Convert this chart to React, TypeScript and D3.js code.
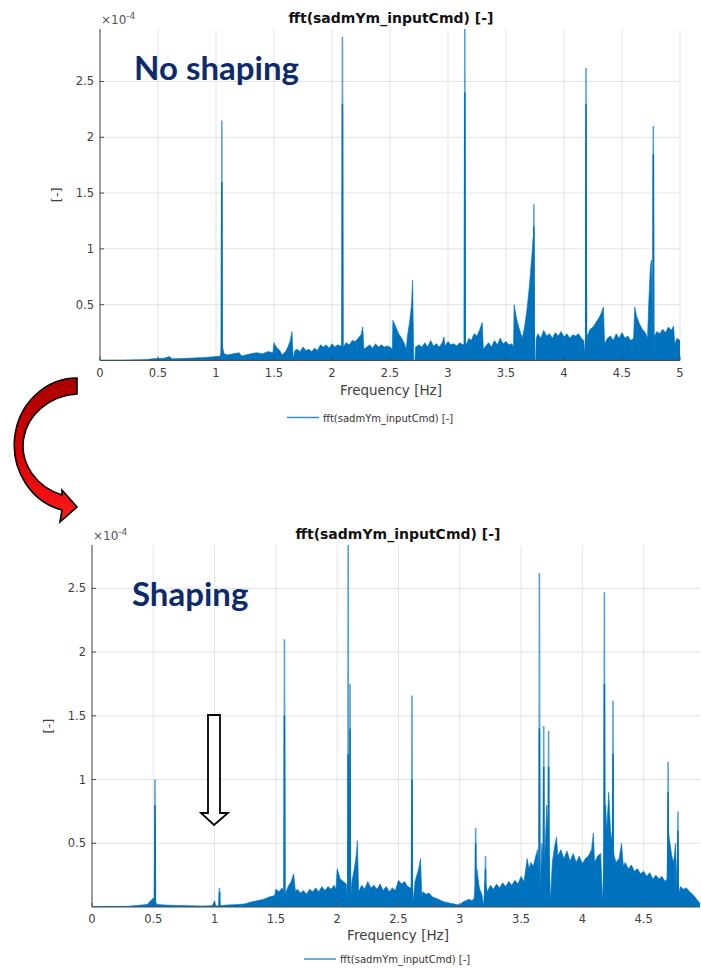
import React from 'react';
import * as d3 from 'd3';

type P = [number, number];

// Noise envelope of the "No shaping" spectrum: [frequency Hz, amplitude x1e-4]
const topNoise: P[] = [
  [0, 0.004], [0.1, 0.005], [0.2, 0.005], [0.3, 0.007], [0.4, 0.008], [0.45, 0.015], [0.5, 0.018], [0.55, 0.02],
  [0.6, 0.035], [0.62, 0.015], [0.7, 0.018], [0.8, 0.022], [0.9, 0.028], [1.0, 0.035], [1.04, 0.04], [1.05, 0.15],
  [1.07, 0.06], [1.1, 0.05], [1.15, 0.06], [1.2, 0.07], [1.22, 0.04], [1.3, 0.06], [1.35, 0.07], [1.4, 0.06],
  [1.45, 0.08], [1.49, 0.07], [1.5, 0.16], [1.52, 0.12], [1.55, 0.09], [1.57, 0.05], [1.6, 0.08], [1.62, 0.12],
  [1.64, 0.18], [1.655, 0.26], [1.665, 0.02], [1.68, 0.09], [1.7, 0.1], [1.725, 0.08], [1.75, 0.12], [1.775, 0.09],
  [1.8, 0.1], [1.825, 0.08], [1.85, 0.11], [1.875, 0.09], [1.9, 0.14], [1.925, 0.12], [1.95, 0.14], [1.975, 0.11],
  [2.0, 0.15], [2.025, 0.12], [2.05, 0.14], [2.075, 0.13], [2.1, 0.12], [2.12, 0.16], [2.15, 0.14], [2.175, 0.18],
  [2.2, 0.17], [2.225, 0.2], [2.25, 0.23], [2.265, 0.3], [2.275, 0.1], [2.3, 0.12], [2.325, 0.14], [2.35, 0.11],
  [2.375, 0.15], [2.4, 0.12], [2.425, 0.14], [2.45, 0.12], [2.475, 0.13], [2.5, 0.12], [2.52, 0.1], [2.525, 0.36],
  [2.55, 0.3], [2.575, 0.24], [2.6, 0.2], [2.625, 0.15], [2.64, 0.1], [2.65, 0.22], [2.67, 0.35], [2.685, 0.5],
  [2.695, 0.72], [2.705, 0.0], [2.715, 0.0], [2.72, 0.12], [2.75, 0.14], [2.775, 0.12], [2.8, 0.16], [2.825, 0.12],
  [2.85, 0.18], [2.875, 0.13], [2.9, 0.15], [2.925, 0.12], [2.95, 0.16], [2.965, 0.21], [2.975, 0.13], [3.0, 0.17],
  [3.025, 0.14], [3.05, 0.15], [3.075, 0.13], [3.1, 0.16], [3.13, 0.14], [3.16, 0.15], [3.18, 0.2], [3.2, 0.18],
  [3.225, 0.24], [3.25, 0.22], [3.275, 0.28], [3.295, 0.34], [3.305, 0.1], [3.325, 0.13], [3.35, 0.16], [3.375, 0.12],
  [3.4, 0.18], [3.425, 0.14], [3.45, 0.2], [3.475, 0.15], [3.5, 0.17], [3.525, 0.14], [3.55, 0.15], [3.565, 0.12],
  [3.57, 0.5], [3.59, 0.38], [3.61, 0.3], [3.625, 0.25], [3.64, 0.2], [3.66, 0.3], [3.68, 0.45], [3.7, 0.65],
  [3.72, 0.9], [3.735, 1.1], [3.745, 0.0], [3.755, 0.0], [3.76, 0.2], [3.775, 0.24], [3.8, 0.2], [3.825, 0.27],
  [3.85, 0.22], [3.875, 0.24], [3.9, 0.2], [3.925, 0.25], [3.95, 0.22], [3.975, 0.26], [4.0, 0.21], [4.025, 0.24],
  [4.05, 0.2], [4.075, 0.23], [4.1, 0.22], [4.125, 0.24], [4.15, 0.2], [4.17, 0.18], [4.185, 0.02], [4.195, 0.02],
  [4.2, 0.22], [4.225, 0.28], [4.25, 0.3], [4.275, 0.34], [4.3, 0.38], [4.32, 0.42], [4.34, 0.48], [4.35, 0.15],
  [4.375, 0.2], [4.4, 0.22], [4.425, 0.18], [4.45, 0.24], [4.475, 0.2], [4.5, 0.25], [4.525, 0.2], [4.55, 0.22],
  [4.575, 0.18], [4.6, 0.2], [4.61, 0.48], [4.625, 0.4], [4.65, 0.33], [4.675, 0.28], [4.7, 0.25], [4.72, 0.2],
  [4.73, 0.5], [4.745, 0.85], [4.755, 0.9], [4.765, 0.0], [4.775, 0.0], [4.78, 0.22], [4.8, 0.26], [4.825, 0.24],
  [4.85, 0.28], [4.875, 0.25], [4.9, 0.3], [4.925, 0.27], [4.945, 0.31], [4.955, 0.15], [4.975, 0.2], [5.0, 0.18],
];

// Peaks of the "No shaping" spectrum: [frequency, peak, dense-part height]
const topSpikes: [number, number, number][] = [
  [1.05, 2.15, 1.6], [2.09, 2.9, 2.3], [3.145, 3.1, 2.4], [3.74, 1.4, 1.2], [4.19, 2.62, 2.3], [4.77, 2.1, 1.85],
];

// Noise envelope of the "Shaping" spectrum
const botNoise: P[] = [
  [0, 0.004], [0.1, 0.005], [0.2, 0.005], [0.3, 0.006], [0.4, 0.015], [0.45, 0.02], [0.5, 0.07], [0.53, 0.02],
  [0.6, 0.015], [0.7, 0.012], [0.8, 0.01], [0.9, 0.008], [0.98, 0.01], [1.0, 0.05], [1.01, 0.008], [1.1, 0.015],
  [1.2, 0.02], [1.25, 0.025], [1.3, 0.04], [1.35, 0.05], [1.4, 0.06], [1.45, 0.08], [1.49, 0.09], [1.5, 0.14],
  [1.525, 0.12], [1.55, 0.15], [1.575, 0.1], [1.6, 0.16], [1.625, 0.2], [1.645, 0.26], [1.66, 0.12], [1.675, 0.14],
  [1.7, 0.11], [1.725, 0.13], [1.75, 0.1], [1.775, 0.14], [1.8, 0.12], [1.825, 0.15], [1.85, 0.12], [1.875, 0.16],
  [1.9, 0.13], [1.925, 0.16], [1.95, 0.14], [1.975, 0.17], [1.99, 0.14], [2.0, 0.3], [2.025, 0.22], [2.05, 0.2],
  [2.075, 0.18], [2.085, 0.05], [2.11, 0.05], [2.12, 0.2], [2.14, 0.3], [2.155, 0.4], [2.165, 0.52], [2.175, 0.12],
  [2.2, 0.17], [2.225, 0.14], [2.25, 0.2], [2.275, 0.15], [2.3, 0.17], [2.325, 0.14], [2.35, 0.18], [2.375, 0.13],
  [2.4, 0.16], [2.425, 0.12], [2.45, 0.15], [2.475, 0.13], [2.5, 0.21], [2.525, 0.18], [2.55, 0.2], [2.575, 0.16],
  [2.6, 0.15], [2.62, 0.05], [2.635, 0.2], [2.65, 0.25], [2.665, 0.3], [2.68, 0.38], [2.69, 0.1], [2.7, 0.12],
  [2.725, 0.1], [2.75, 0.11], [2.775, 0.08], [2.8, 0.07], [2.825, 0.06], [2.85, 0.05], [2.875, 0.04], [2.9, 0.035],
  [2.925, 0.03], [2.95, 0.025], [2.975, 0.02], [3.0, 0.015], [3.025, 0.04], [3.05, 0.05], [3.075, 0.06], [3.1, 0.05],
  [3.12, 0.07], [3.14, 0.3], [3.16, 0.15], [3.18, 0.1], [3.195, 0.01], [3.205, 0.2], [3.225, 0.12], [3.25, 0.17],
  [3.275, 0.14], [3.3, 0.18], [3.325, 0.15], [3.35, 0.19], [3.375, 0.16], [3.4, 0.2], [3.425, 0.17], [3.45, 0.21],
  [3.475, 0.18], [3.5, 0.24], [3.525, 0.2], [3.55, 0.38], [3.565, 0.3], [3.58, 0.35], [3.6, 0.32], [3.62, 0.4],
  [3.635, 0.45], [3.655, 0.1], [3.67, 0.5], [3.69, 0.3], [3.71, 0.8], [3.725, 0.5], [3.74, 0.05], [3.755, 0.35],
  [3.775, 0.48], [3.79, 0.55], [3.8, 0.4], [3.825, 0.45], [3.85, 0.38], [3.875, 0.44], [3.9, 0.36], [3.925, 0.42],
  [3.95, 0.35], [3.975, 0.4], [4.0, 0.34], [4.025, 0.38], [4.05, 0.4], [4.075, 0.45], [4.09, 0.58], [4.1, 0.35],
  [4.125, 0.4], [4.15, 0.42], [4.165, 0.05], [4.175, 0.3], [4.19, 0.8], [4.2, 0.6], [4.215, 0.9], [4.23, 0.6],
  [4.26, 0.4], [4.275, 0.35], [4.3, 0.38], [4.32, 0.5], [4.335, 0.32], [4.35, 0.35], [4.375, 0.3], [4.4, 0.33],
  [4.425, 0.28], [4.45, 0.3], [4.475, 0.26], [4.5, 0.28], [4.525, 0.24], [4.55, 0.27], [4.575, 0.22], [4.6, 0.25],
  [4.625, 0.22], [4.65, 0.24], [4.675, 0.2], [4.69, 0.22], [4.7, 0.6], [4.715, 0.5], [4.73, 0.4], [4.745, 0.35],
  [4.76, 0.5], [4.775, 0.1], [4.79, 0.12], [4.8, 0.16], [4.825, 0.14], [4.85, 0.15], [4.875, 0.12], [4.9, 0.1],
  [4.925, 0.07], [4.95, 0.04], [4.96, 0.03],
];

const botSpikes: [number, number, number][] = [
  [0.514, 1.0, 0.8], [1.04, 0.15, 0.12], [1.57, 2.1, 1.5], [2.09, 3.0, 1.2], [2.105, 1.75, 1.4], [2.61, 1.66, 1.0],
  [3.13, 0.62, 0.5], [3.21, 0.4, 0.3], [3.65, 2.62, 1.4], [3.685, 1.42, 1.1], [3.725, 1.38, 1.1],
  [4.18, 2.47, 1.75], [4.25, 1.62, 1.2], [4.7, 1.14, 0.9], [4.78, 0.75, 0.6],
];

const xTicksTop = [0, 0.5, 1, 1.5, 2, 2.5, 3, 3.5, 4, 4.5, 5];
const xTicksBot = [0, 0.5, 1, 1.5, 2, 2.5, 3, 3.5, 4, 4.5];
const yTicks = [0.5, 1, 1.5, 2, 2.5];

const TITLE = 'fft(sadmYm_inputCmd) [-]';
const BLUE = '#0072BD';
const FONT = 'DejaVu Sans, Liberation Sans, sans-serif';

interface PanelProps {
  id: string;
  noise: P[];
  spikes: [number, number, number][];
  xTicks: number[];
  xMax: number;
  yMax: number;
  left: number;
  right: number;
  top: number;
  bottom: number;
  center: number;
  label: string;
  labelX: number;
  labelY: number;
  legendX: number;
  legendDy: number;
  xlabelDy: number;
}

function Panel(p: PanelProps) {
  const x = d3.scaleLinear().domain([0, p.xMax]).range([p.left, p.right]);
  const y = d3.scaleLinear().domain([0, p.yMax]).range([p.bottom, p.top]);
  const area = d3.area<P>().x(d => x(d[0])).y0(y(0)).y1(d => y(d[1]));
  const line = d3.line<P>().x(d => x(d[0])).y(d => y(d[1]));
  const w = 0.003;
  const fmt = (v: number) => String(v);
  return (
    <g>
      <defs>
        <clipPath id={p.id}>
          <rect x={p.left} y={p.top} width={p.right - p.left} height={p.bottom - p.top} />
        </clipPath>
      </defs>
      {/* grid */}
      {p.xTicks.map(t => (
        <line key={'gx' + t} x1={x(t)} x2={x(t)} y1={p.top} y2={p.bottom} stroke="#e3e3e3" strokeWidth={1} />
      ))}
      {yTicks.map(t => (
        <line key={'gy' + t} x1={p.left} x2={p.right} y1={y(t)} y2={y(t)} stroke="#e3e3e3" strokeWidth={1} />
      ))}
      {/* data */}
      <g clipPath={`url(#${p.id})`}>
        <path d={area(p.noise) || ''} fill={BLUE} />
        <path d={line(p.noise) || ''} fill="none" stroke={BLUE} strokeWidth={1} strokeOpacity={0.6} />
        {p.spikes.map(s => (
          <g key={'s' + s[0]}>
            <path d={line([[s[0] - w, 0], [s[0], s[1]], [s[0] + w, 0]]) || ''} fill="none" stroke={BLUE} strokeWidth={1.6} strokeOpacity={0.65} />
            <path d={line([[s[0] - w, 0], [s[0], s[2]], [s[0] + w, 0]]) || ''} fill={BLUE} stroke={BLUE} strokeWidth={1.5} />
          </g>
        ))}
      </g>
      {/* axes */}
      <line x1={p.left} x2={p.left} y1={p.top} y2={p.bottom} stroke="#4a4a4a" strokeWidth={1} />
      <line x1={p.left} x2={p.right} y1={p.bottom} y2={p.bottom} stroke="#4a4a4a" strokeWidth={1.2} />
      {yTicks.map(t => (
        <g key={'ty' + t}>
          <line x1={p.left} x2={p.left + 4} y1={y(t)} y2={y(t)} stroke="#4a4a4a" />
          <text x={p.left - 6} y={y(t) + 4} textAnchor="end" fontSize={11.5} fill="#404040" fontFamily={FONT}>{fmt(t)}</text>
        </g>
      ))}
      {p.xTicks.map(t => (
        <g key={'tx' + t}>
          <line x1={x(t)} x2={x(t)} y1={p.bottom} y2={p.bottom - 4} stroke="#4a4a4a" />
          <text x={x(t)} y={p.bottom + 16} textAnchor="middle" fontSize={11.5} fill="#404040" fontFamily={FONT}>{fmt(t)}</text>
        </g>
      ))}
      {/* exponent */}
      <text x={p.left + 1} y={p.top - 5} fontSize={12} fill="#555" fontFamily={FONT}>
        ×10<tspan dy={-5} fontSize={9}>-4</tspan>
      </text>
      {/* title */}
      <text x={p.center} y={p.top - 6} textAnchor="middle" fontSize={14} fontWeight="bold" fill="#111" fontFamily={FONT}>{TITLE}</text>
      {/* axis labels */}
      <text x={p.center} y={p.bottom + p.xlabelDy} textAnchor="middle" fontSize={13.5} fill="#404040" fontFamily={FONT}>Frequency [Hz]</text>
      <text transform={`translate(${p.left - 39},${(p.top + p.bottom) / 2}) rotate(-90)`} textAnchor="middle" fontSize={13} fill="#404040" fontFamily={FONT}>[-]</text>
      {/* legend */}
      <line x1={p.legendX} x2={p.legendX + 32} y1={p.bottom + p.legendDy} y2={p.bottom + p.legendDy} stroke={BLUE} strokeWidth={1.5} strokeOpacity={0.8} />
      <text x={p.legendX + 36} y={p.bottom + p.legendDy + 4} fontSize={10} fill="#333" fontFamily={FONT}>{TITLE}</text>
      {/* annotation */}
      <text x={p.labelX} y={p.labelY} fontSize={33} fontWeight="bold" fill="#0d2b6b" fontFamily="Lato, Open Sans, sans-serif">{p.label}</text>
    </g>
  );
}

export default function App() {
  return (
    <svg width={701} height={969} style={{ position: 'absolute', left: 0, top: 0, background: '#fff' }}>
      <defs>
        <linearGradient id="redg" x1="0" y1="0" x2="0" y2="1">
          <stop offset="0" stopColor="#a80000" />
          <stop offset="0.5" stopColor="#d80000" />
          <stop offset="1" stopColor="#ff1a1a" />
        </linearGradient>
      </defs>
      <rect x={0} y={0} width={701} height={969} fill="#fff" />
      <Panel id="clipTop" noise={topNoise} spikes={topSpikes} xTicks={xTicksTop} xMax={5} yMax={2.97}
        left={100} right={680} top={29} bottom={360.5} center={391} label="No shaping" labelX={134} labelY={80}
        legendX={287} legendDy={57} xlabelDy={34} />
      <Panel id="clipBot" noise={botNoise} spikes={botSpikes} xTicks={xTicksBot} xMax={4.96} yMax={2.84}
        left={92} right={700} top={545} bottom={907} center={398} label="Shaping" labelX={132} labelY={606}
        legendX={304} legendDy={52} xlabelDy={33} />
      {/* red curved arrow */}
      <path d="M77,378 A63,67 0 0 0 62,510 L60,522 L77,507 L62,490 L62,495 A58,52 0 0 1 77,394 Z"
        fill="url(#redg)" stroke="#000" strokeWidth={1.6} strokeLinejoin="miter" />
      {/* hollow down arrow */}
      <path d="M208,715 L220,715 L220,813 L228,813 L214,825 L201,813 L208,813 Z" fill="#fff" stroke="#000" strokeWidth={1.8} />
    </svg>
  );
}
